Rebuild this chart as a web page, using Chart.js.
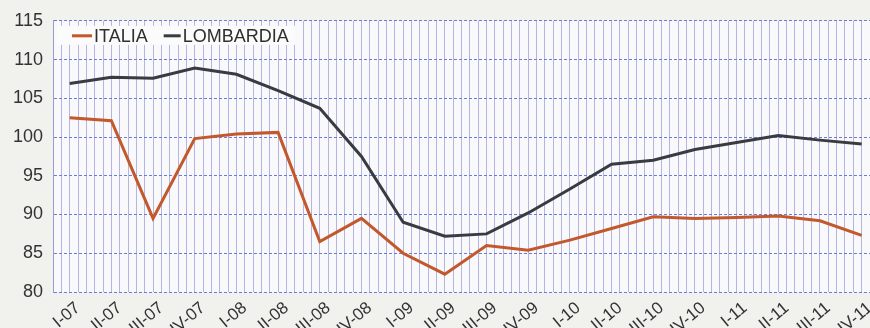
<!DOCTYPE html>
<html>
<head>
<meta charset="utf-8">
<script src="https://cdn.jsdelivr.net/npm/chart.js@4/dist/chart.umd.min.js"></script>
<style>
body { margin: 0; background: #f1f1ee; }
#chart-box { width: 870px; height: 328px; }
</style>
</head>
<body>
<div id="chart-box"><canvas id="trend-chart" width="870" height="328"></canvas></div>
<script>
// quarters from I-07 to IV-11
let quarters = ['I-07','II-07','III-07','IV-07','I-08','II-08','III-08','IV-08','I-09','II-09','III-09','IV-09','I-10','II-10','III-10','IV-10','I-11','II-11','III-11','IV-11']
let italia = [102.5,102.1,89.5,99.8,100.4,100.6,86.5,89.5,85.0,82.3,86.0,85.4,86.7,88.2,89.7,89.5,89.6,89.8,89.2,87.3]
let lombardia = [106.9,107.7,107.6,108.9,108.1,106.0,103.7,97.5,89.0,87.2,87.5,90.2,93.3,96.5,97.0,98.4,99.3,100.2,99.6,99.1]
let yTicks = [80,85,90,95,100,105,110,115]

let sub = 5 // grid lines per quarter
let fontFam = "'Liberation Sans', Arial, sans-serif"

function toPoints(values){
    return values.map(function(v, i){ return {x: i * sub, y: v} })
}

// plot background + legend box drawn by hand
let paperPlugin = {
    id: 'paper',
    beforeDraw: function(chart){
        let a = chart.chartArea
        let ctx = chart.ctx
        ctx.save()
        ctx.fillStyle = '#f9f9fb'
        ctx.fillRect(a.left, a.top, a.right - a.left, a.bottom - a.top)
        ctx.restore()
    },
    beforeDatasetsDraw: function(chart){
        let a = chart.chartArea
        let ctx = chart.ctx
        ctx.save()
        ctx.fillStyle = '#fbfbfb'
        ctx.fillRect(a.left + 4, a.top + 5, 238, 19)
        ctx.font = '18px ' + fontFam
        ctx.textBaseline = 'middle'
        let x = a.left + 19
        let y = a.top + 15
        chart.data.datasets.forEach(function(ds, i){
            let len = i == 0 ? 20 : 17
            ctx.strokeStyle = ds.borderColor
            ctx.lineWidth = 3
            ctx.beginPath()
            ctx.moveTo(x, y)
            ctx.lineTo(x + len, y)
            ctx.stroke()
            ctx.fillStyle = '#2e2e2e'
            ctx.fillText(ds.label, x + len + 2, y + 1)
            x = x + len + 2 + ctx.measureText(ds.label).width + 16
        })
        ctx.restore()
    }
}

new Chart(document.getElementById('trend-chart'), {
    type: 'line',
    data: {
        datasets: [
            {label: 'ITALIA', data: toPoints(italia), borderColor: '#c2582c', borderWidth: 3, pointRadius: 0, tension: 0},
            {label: 'LOMBARDIA', data: toPoints(lombardia), borderColor: '#383b40', borderWidth: 3, pointRadius: 0, tension: 0}
        ]
    },
    options: {
        responsive: false,
        animation: false,
        layout: {padding: {left: 12, top: 18, right: 0, bottom: 0}},
        plugins: {legend: {display: false}, tooltip: {enabled: false}},
        scales: {
            x: {
                type: 'linear',
                min: -2,
                max: 96,
                afterFit: function(scale){
                    scale.height = 36
                    scale.paddingLeft = 0
                    scale.paddingRight = 0
                },
                ticks: {
                    stepSize: 1,
                    includeBounds: false,
                    autoSkip: false,
                    minRotation: 40,
                    maxRotation: 40,
                    padding: 6,
                    color: '#333',
                    font: {family: fontFam, size: 17},
                    // labels sit one small grid step right of their quarter, as in the print
                    callback: function(v){
                        if ((v - 1) % sub != 0) return ''
                        let q = quarters[(v - 1) / sub]
                        return q ? q : ''
                    }
                },
                grid: {color: '#b4b6e2', lineWidth: 1, drawTicks: false},
                border: {display: false}
            },
            y: {
                min: 80,
                max: 115,
                afterBuildTicks: function(scale){
                    scale.ticks = yTicks.map(function(v){ return {value: v} })
                },
                afterFit: function(scale){ scale.width = 41 },
                ticks: {
                    padding: 10,
                    color: '#333',
                    font: {family: fontFam, size: 18}
                },
                grid: {color: '#6c7cd4', lineWidth: 1, drawTicks: false},
                border: {display: true, color: '#9a9ccc', dash: [3, 2]}
            }
        }
    },
    plugins: [paperPlugin]
})
</script>
</body>
</html>
